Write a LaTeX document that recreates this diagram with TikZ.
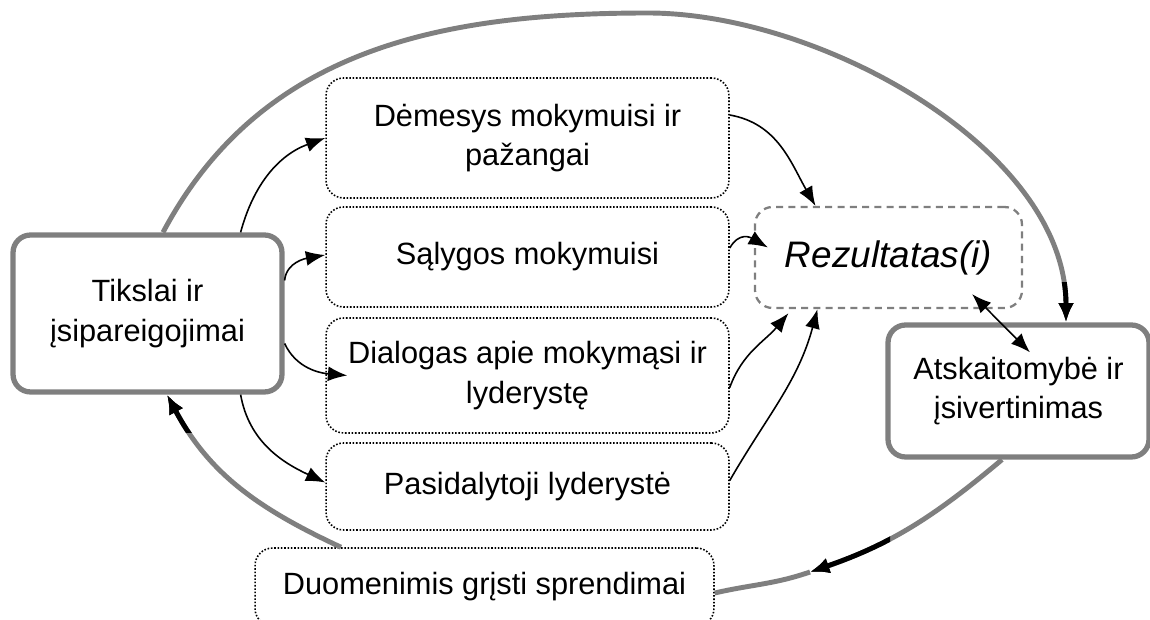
\documentclass[tikz,border=0pt]{standalone}
\usepackage{fontspec}
\setmainfont{Liberation Sans}
\usetikzlibrary{arrows.meta,calc}

\definecolor{loopgray}{HTML}{7F7F7F}

\begin{document}
\begin{tikzpicture}[x=0.02cm, y=0.02cm, >={Latex[length=11pt,width=8.5pt]},
    txt/.style={font=\fontsize{17.5}{22.5}\selectfont, align=center, inner sep=0pt},
    thinbox/.style={txt, draw, densely dotted, line width=0.9pt, rounded corners=10pt, minimum width=8.06cm},
    mainbox/.style={txt, draw=loopgray, line width=3pt, rounded corners=10pt},
    resbox/.style={draw=loopgray, dash pattern=on 4pt off 3pt, line width=1.3pt, rounded corners=10pt,
        inner sep=0pt, font=\fontsize{21}{25}\selectfont\itshape},
    link/.style={->, line width=0.9pt},
    loopline/.style={draw=loopgray, line width=2.8pt},
    looptip/.style={-{Latex[length=11pt,width=9pt,color=black]}}]

    % 1. 画布大小
    \useasboundingbox (0,0) rectangle (1150,619);

    % 2. 方框
    \node[mainbox, minimum width=5.38cm, minimum height=3.14cm] (t) at (147.5,305.5) {Tikslai ir\\įsipareigojimai};
    \node[thinbox, minimum height=2.4cm] (d1) at (527.5,481) {Dėmesys mokymuisi ir\\pažangai};
    \node[thinbox, minimum height=2.0cm] (d2) at (527.5,362) {Sąlygos mokymuisi};
    \node[thinbox, minimum height=2.3cm] (d3) at (527.5,243.5) {Dialogas apie mokymąsi ir\\lyderystę};
    \node[thinbox, minimum height=1.74cm] (d4) at (527.5,132.5) {Pasidalytoji lyderystė};
    \node[resbox, minimum width=5.34cm, minimum height=2.02cm] (r) at (888.5,361.5) {Rezultatas(i)};
    \node[mainbox, minimum width=5.22cm, minimum height=2.64cm] (a) at (1018.5,228) {Atskaitomybė ir\\įsivertinimas};
    \node[thinbox, minimum width=9.18cm, minimum height=1.56cm] (du) at (484.5,32) {Duomenimis grįsti sprendimai};

    % 3. 外圈
    \coordinate (ltop) at (648,606);
    \coordinate (lmid) at (810,47);
    \draw[loopline, looptip] ($(t.north)+(15.5,0)$) to[out=62,in=180] (ltop)
        to[out=0,in=90,looseness=0.85] ($(a.north)+(47.5,0)$);
    \draw[loopline, looptip] ($(a.south)+(-16.5,0)$) to[out=220,in=19] (lmid);
    \draw[loopline] (lmid) to[out=199,in=13] ($(du.east)+(0,-6)$);
    \draw[loopline, looptip] ($(du.north)+(-143.5,0)$) to[out=155,in=-62] ($(t.south)+(19.5,0)$);

    % 4. 箭头附近的黑色部分
    \begin{scope}
        \clip (1030,280) rectangle (1100,336);
        \draw[loopline, draw=black, looptip] ($(t.north)+(15.5,0)$) to[out=62,in=180] (ltop)
            to[out=0,in=90,looseness=0.85] ($(a.north)+(47.5,0)$);
    \end{scope}
    \begin{scope}
        \clip (790,20) rectangle (890,100);
        \draw[loopline, draw=black, looptip] ($(a.south)+(-16.5,0)$) to[out=220,in=19] (lmid);
    \end{scope}
    \begin{scope}
        \clip (100,186) rectangle (260,240);
        \draw[loopline, draw=black, looptip] ($(du.north)+(-143.5,0)$) to[out=155,in=-62] ($(t.south)+(19.5,0)$);
    \end{scope}

    % 5. 连线
    \draw[link] ($(t.north east)+(-44,0)$) to[out=75,in=200] (d1.west);
    \draw[link] ($(t.east)+(0,33)$) to[out=85,in=190] ($(d2.west)+(0,2)$);
    \draw[link] ($(t.east)+(0,-30)$) to[out=-65,in=175] ($(d3.west)+(22,0)$);
    \draw[link] ($(t.south east)+(-44,0)$) to[out=-80,in=155] ($(d4.west)+(0,4)$);

    \draw[link] ($(d1.east)+(0,23)$) to[out=-10,in=120] ($(r.north)+(-73,0)$);
    \draw[link] ($(d2.east)+(0,9)$) to[out=60,in=150,looseness=1.3] ($(r.west)+(14,10)$);
    \draw[link] ($(d3.east)+(0,-12)$) to[out=70,in=230] ($(r.south)+(-100,-4)$);
    \draw[link] ($(d4.east)+(0,6)$) to[out=60,in=-105] ($(r.south)+(-71,0)$);

    \draw[<->, line width=0.9pt] ($(r.south east)+(-51,15)$) -- ($(a.north)+(11.5,-30)$);

\end{tikzpicture}
\end{document}
